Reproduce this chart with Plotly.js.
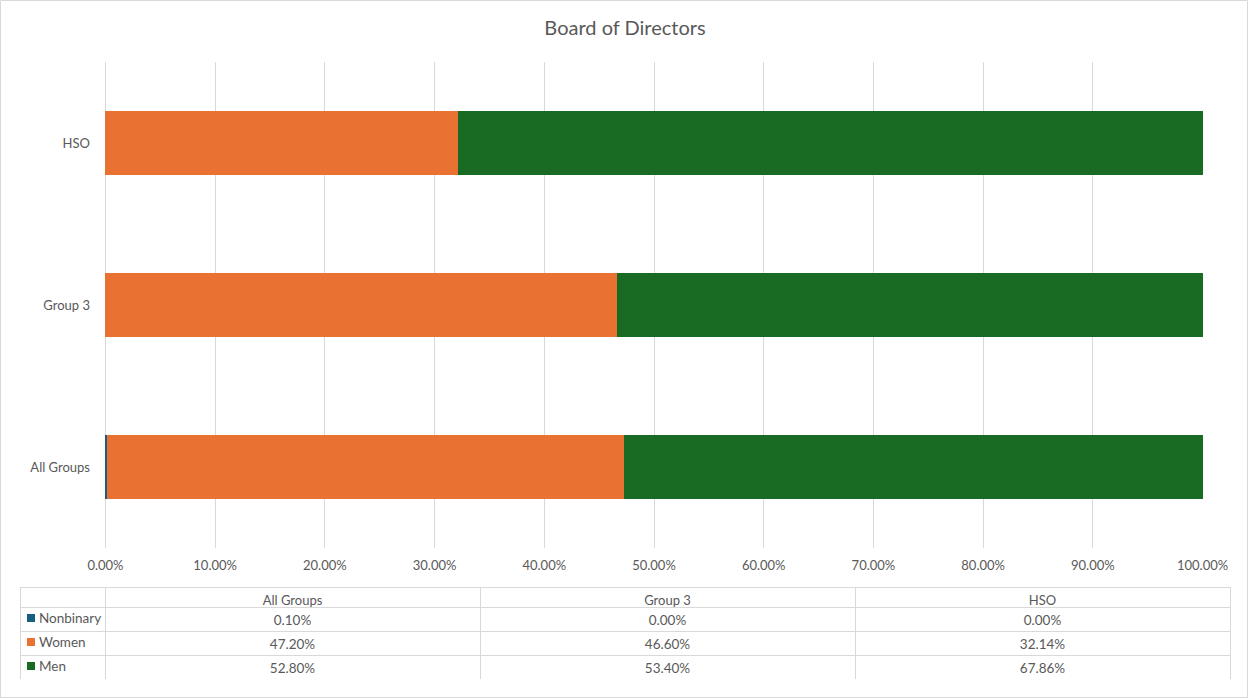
<!DOCTYPE html>
<html>
<head>
<meta charset="utf-8">
<script src="https://cdn.plot.ly/plotly-3.0.1.min.js"></script>
<style>html,body{margin:0;padding:0;background:#fff;}#chart{width:1248px;height:698px;}</style>
</head>
<body>
<div id="chart"></div>
<script>
const categories = ['All Groups', 'Group 3', 'HSO'];
const seriesNames = ['Nonbinary', 'Women', 'Men'];
const nonbinary = [0.001, 0.0, 0.0];
const women = [0.472, 0.466, 0.3214];
const men = [0.528, 0.534, 0.6786];
const seriesColors = ['#156082', '#E97132', '#196B24'];
const xTickValues = [0, 0.1, 0.2, 0.3, 0.4, 0.5, 0.6, 0.7, 0.8, 0.9, 1.0];

const allSeries = [nonbinary, women, men];
const fontFam = 'Lato, "Open Sans", sans-serif';
const txt = '#595959';
const grid = '#d9d9d9';

const traces = allSeries.map((vals, i) => ({
  type: 'bar', orientation: 'h', name: seriesNames[i],
  y: categories, x: vals,
  marker: {color: seriesColors[i], line: {width: 0}},
  hoverinfo: 'skip', showlegend: false
}));

const fmt = v => (v * 100).toFixed(2) + '%';
const firstCol = seriesNames.map(() => '');
const valueCols = categories.map((c, ci) => allSeries.map(s => fmt(s[ci])));

// paper geometry: paper x from px 20 to 1230 (1210 wide), y from px 62 to 679 (617 tall)
const pxX = px => (px - 20) / 1210;
const pxY = py => (679 - py) / 617;

traces.push({
  type: 'table',
  domain: {x: [0, 1], y: [0, pxY(587)]},
  columnwidth: [85, 375, 375, 375],
  header: {
    values: [''].concat(categories),
    align: 'center', height: 20,
    line: {color: grid, width: 1}, fill: {color: '#ffffff'},
    font: {family: fontFam, size: 13, color: txt}
  },
  cells: {
    values: [firstCol].concat(valueCols),
    align: ['left', 'center', 'center', 'center'], height: 24,
    line: {color: grid, width: 1}, fill: {color: '#ffffff'},
    font: {family: fontFam, size: 13.5, color: txt}
  }
});

const shapes = [{type: 'rect', xref: 'paper', yref: 'paper', x0: pxX(0.5), x1: pxX(1247.5), y0: pxY(697.5), y1: pxY(0.5),
          line: {color: grid, width: 1}, fillcolor: 'rgba(0,0,0,0)'}];
const annotations = [];
seriesColors.forEach((c, i) => {
  const cy = 618 + i * 24;
  shapes.push({type: 'rect', xref: 'paper', yref: 'paper', x0: pxX(27), x1: pxX(35), y0: pxY(cy + 4), y1: pxY(cy - 4),
    line: {width: 0}, fillcolor: c, layer: 'above'});
  annotations.push({xref: 'paper', yref: 'paper', x: pxX(37), y: pxY(cy), xanchor: 'left', yanchor: 'middle',
    text: seriesNames[i], showarrow: false, font: {family: fontFam, size: 13.5, color: txt}});
});

const layout = {
  width: 1248, height: 698,
  margin: {l: 20, r: 18, t: 62, b: 19},
  paper_bgcolor: '#ffffff', plot_bgcolor: '#ffffff',
  barmode: 'stack', bargap: 0.6,
  title: {text: 'Board of Directors', x: 0.5, xref: 'paper', y: 0.96, yanchor: 'middle',
          font: {family: fontFam, size: 20, color: txt}},
  xaxis: {
    domain: [pxX(105), pxX(1203)], range: [-0.0004, 1.0004], tickvals: xTickValues, tickformat: '.2%',
    showgrid: true, gridcolor: grid, gridwidth: 1, zeroline: true, zerolinecolor: grid, zerolinewidth: 1, showline: false,
    ticks: '', ticklabelstandoff: 8,
    tickfont: {family: fontFam, size: 13, color: txt}, fixedrange: true
  },
  yaxis: {
    domain: [pxY(548), 1], type: 'category', categoryorder: 'array', categoryarray: categories,
    range: [-0.5, 2.5],
    showgrid: false, zeroline: false, showline: false, ticks: '', ticklabelstandoff: 14,
    tickfont: {family: fontFam, size: 13, color: txt}, fixedrange: true
  },
  shapes: shapes,
  annotations: annotations,
  showlegend: false
};

Plotly.newPlot('chart', traces, layout, {displayModeBar: false, staticPlot: true});
</script>
</body>
</html>
